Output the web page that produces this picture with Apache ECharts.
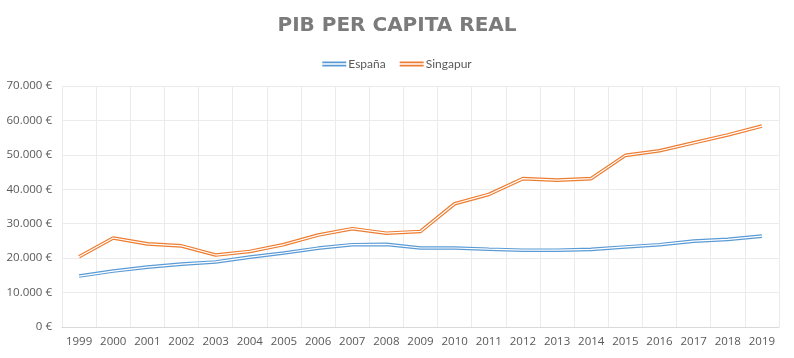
<!DOCTYPE html>
<html><head><meta charset="utf-8">
<script src="https://cdn.jsdelivr.net/npm/echarts@6/dist/echarts.min.js"></script>
<style>html,body{margin:0;padding:0;background:#fff}#c{width:794px;height:358px}</style>
</head><body><div id="c"></div>
<script>
const years = ['1999','2000','2001','2002','2003','2004','2005','2006','2007','2008','2009','2010','2011','2012','2013','2014','2015','2016','2017','2018','2019'];
const espana = [14800,16250,17400,18250,18900,20300,21500,22900,23900,24000,22950,22950,22600,22300,22300,22550,23250,23900,24950,25450,26400];
const singapur = [20400,25850,24150,23550,20900,21950,23950,26700,28550,27250,27750,35800,38500,43100,42650,43100,49850,51200,53500,55800,58350];
const yTicks = [0,10000,20000,30000,40000,50000,60000,70000];

const chart = echarts.init(document.getElementById('c'));
const dbl = 'path://M0,0H30V2H0Z M0,4H30V6H0Z';
function fmt(v){return (v===0?'0':String(v).replace(/\B(?=(\d{3})+(?!\d))/g,'.'))+' €';}
function mk(name,data,color,width,z){
  return {name:name,type:'line',data:data,symbol:'none',smooth:false,silent:true,z:z,
    lineStyle:{color:color,width:width},itemStyle:{color:color},animation:false};
}
chart.setOption({
  animation:false,
  title:{text:'PIB PER CAPITA REAL',left:'center',top:11,
    textStyle:{fontFamily:'DejaVu Sans',fontWeight:'bold',fontSize:20,color:'#7b7b7b'}},
  legend:{data:['España','Singapur'],top:53,left:'center',icon:dbl,itemWidth:24,itemHeight:5,itemGap:14,
    textStyle:{fontFamily:'Lato',fontSize:12,color:'#595959',padding:[0,0,0,-3]}},
  grid:{left:62,right:15,top:86,bottom:31},
  xAxis:{type:'category',data:years,boundaryGap:true,
    axisLine:{lineStyle:{color:'#d9d9d9'}},axisTick:{show:false},
    axisLabel:{color:'#595959',fontFamily:'Open Sans',fontSize:11.5,margin:9,interval:0},
    splitLine:{show:true,interval:0,lineStyle:{color:'#ebebeb'}}},
  yAxis:{type:'value',min:yTicks[0],max:yTicks[yTicks.length-1],interval:10000,
    axisLine:{show:false},axisTick:{show:false},
    axisLabel:{color:'#595959',fontFamily:'Open Sans',fontSize:11.5,margin:10,formatter:fmt},
    splitLine:{lineStyle:{color:'#ebebeb'}}},
  series:[
    mk('España',espana,'#5b9bd5',3.6,2),
    mk('Singapur',singapur,'#ed7d31',3.6,2),
    mk('_e',espana,'#ffffff',1.2,3),
    mk('_s',singapur,'#ffffff',1.2,3)
  ]
});
</script></body></html>
